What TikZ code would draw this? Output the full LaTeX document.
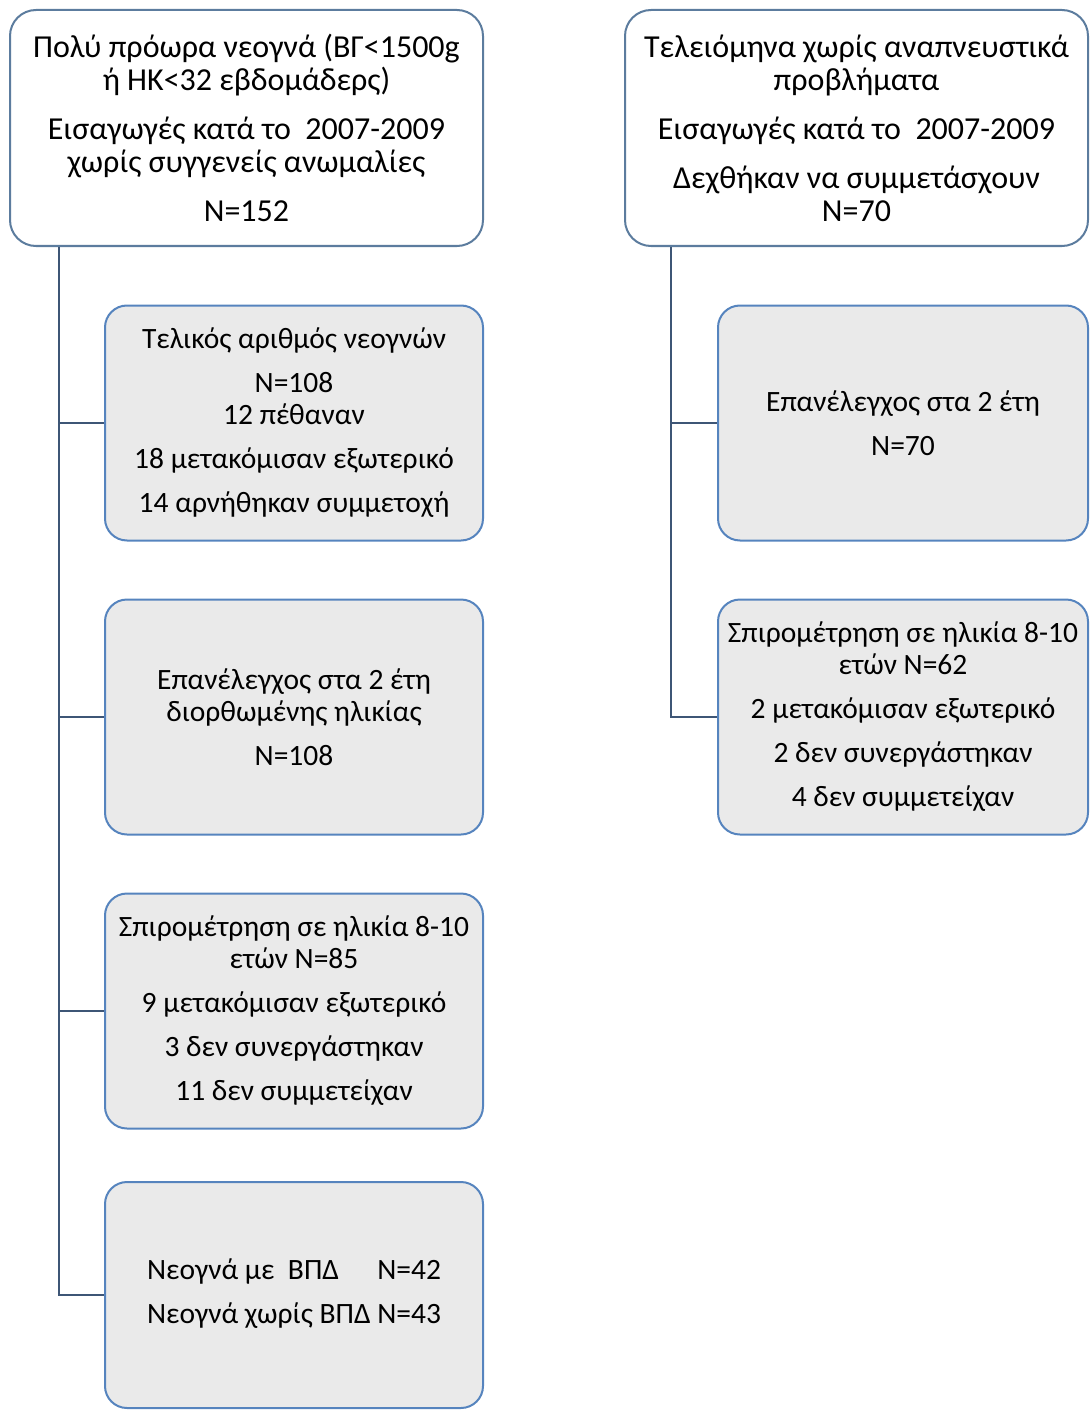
\documentclass[tikz,border=0pt]{standalone}
\usepackage{fontspec}
\setmainfont{Carlito}
\usepackage{xcolor}
\usetikzlibrary{positioning}
\definecolor{topblue}{RGB}{92,124,158}
\definecolor{boxblue}{RGB}{86,132,190}
\definecolor{linkblue}{RGB}{62,86,118}
\definecolor{boxgrey}{RGB}{234,234,234}

\begin{document}
\begin{tikzpicture}[x=0.5pt,y=-0.5pt,node distance=147pt,on grid,
    topbox/.style={draw=topblue,line width=1pt,rounded corners=13pt,fill=white,
        align=center,inner sep=0pt,minimum height=118pt,
        font=\fontsize{16}{16.5}\selectfont},
    subbox/.style={draw=boxblue,line width=1pt,rounded corners=11pt,fill=boxgrey,
        align=center,inner sep=0pt,minimum height=117.5pt,
        font=\fontsize{14.75}{16}\selectfont},
    link/.style={draw=linkblue,line width=1pt}]

\useasboundingbox (0,0) rectangle (1089,1412);

% two cohorts
\node[topbox,minimum width=236.5pt] (pre) at (246.5,128)
    {Πολύ πρόωρα νεογνά (ΒΓ<1500g\\ή ΗΚ<32 εβδομάδερς)\\[8pt]Εισαγωγές κατά το~~2007-2009\\χωρίς συγγενείς ανωμαλίες\\[8pt]N=152};
\node[topbox,minimum width=231.5pt] (term) at (856.5,128)
    {Τελειόμηνα χωρίς αναπνευστικά\\προβλήματα\\[8pt]Εισαγωγές κατά το~~2007-2009\\[8pt]Δεχθήκαν να συμμετάσχουν\\N=70};

% preterm branch
\node[subbox,minimum width=189pt] (final) at (294,423)
    {Τελικός αριθμός νεογνών\\[6pt]N=108\\12 πέθαναν\\[6pt]18 μετακόμισαν εξωτερικό\\[6pt]14 αρνήθηκαν συμμετοχή};
\node[subbox,minimum width=189pt] (fu2) [below=of final]
    {Επανέλεγχος στα 2 έτη\\διορθωμένης ηλικίας\\[6pt]N=108};
\node[subbox,minimum width=189pt] (spiro) [below=of fu2]
    {Σπιρομέτρηση σε ηλικία 8-10\\ετών N=85\\[6pt]9 μετακόμισαν εξωτερικό\\[6pt]3 δεν συνεργάστηκαν\\[6pt]11 δεν συμμετείχαν};
\node[subbox,minimum width=189pt,minimum height=113pt] (bpd) [below=142pt of spiro]
    {\begin{tabular}{@{}l@{\ }l@{}}Νεογνά με~~ΒΠΔ & N=42\\[6pt]Νεογνά χωρίς ΒΠΔ & N=43\end{tabular}};

% term branch
\node[subbox,minimum width=185pt] (fu2t) at (903,423)
    {Επανέλεγχος στα 2 έτη\\[6pt]N=70};
\node[subbox,minimum width=185pt] (spirot) [below=of fu2t]
    {Σπιρομέτρηση σε ηλικία 8-10\\ετών N=62\\[6pt]2 μετακόμισαν εξωτερικό\\[6pt]2 δεν συνεργάστηκαν\\[6pt]4 δεν συμμετείχαν};

\coordinate (pretrunk) at ([xshift=25pt]pre.south west);
\coordinate (termtrunk) at ([xshift=23.5pt]term.south west);

\foreach \n in {final,fu2,spiro,bpd}
    \draw[link] (pretrunk) |- (\n.west);
\foreach \n in {fu2t,spirot}
    \draw[link] (termtrunk) |- (\n.west);
\end{tikzpicture}
\end{document}
